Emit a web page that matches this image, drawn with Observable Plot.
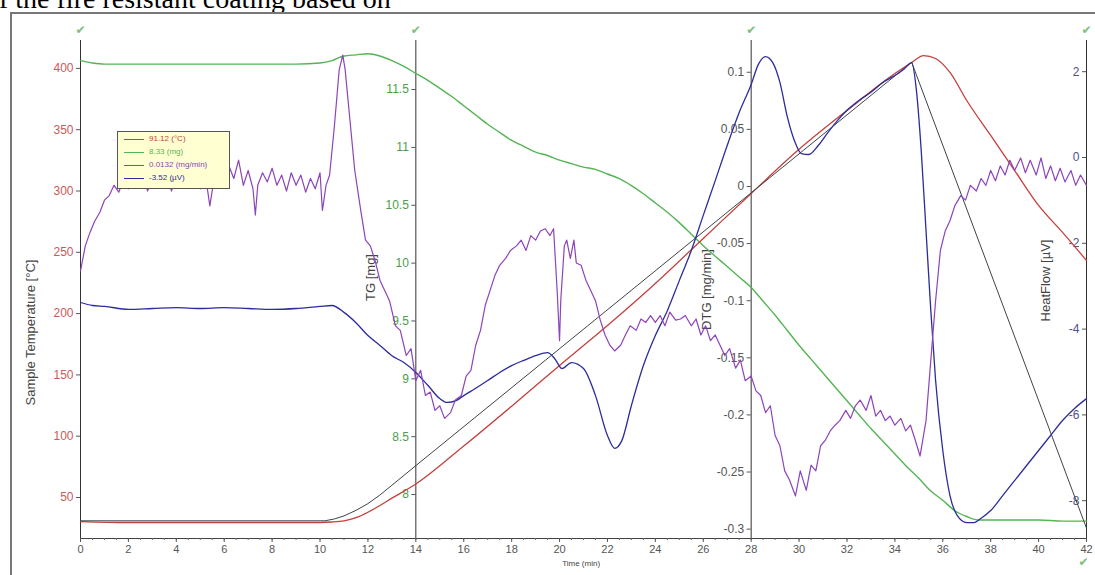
<!DOCTYPE html>
<html><head><meta charset="utf-8">
<script src="https://cdn.jsdelivr.net/npm/d3@7"></script>
<script src="https://cdn.jsdelivr.net/npm/@observablehq/plot@0.6"></script>
<style>
html,body{margin:0;padding:0;background:#fff;}
#wrap{position:relative;width:1095px;height:575px;overflow:hidden;background:#fff;}
#title{position:absolute;left:-1px;top:-15px;font:28px/28px "Liberation Serif","Times New Roman",serif;color:#000;white-space:nowrap;}
#frame{position:absolute;left:10px;top:12px;width:1100px;height:600px;border-top:2px solid #777;border-left:2px solid #777;}
#chart{position:absolute;left:0;top:0;}
#legend{position:absolute;left:117px;top:131px;width:113px;height:58px;background:#ffffd2;border:1px solid #555;font:8px "Liberation Sans",Arial,sans-serif;box-sizing:border-box;}
#legend .row{position:absolute;left:0;height:12px;line-height:12px;white-space:nowrap;}
#legend .sw{position:absolute;left:6px;top:6px;width:20px;height:1px;}
#legend .tx{position:absolute;left:31px;top:0;}
</style></head><body>
<div id="wrap">
<div id="title">f the fire resistant coating based on</div>
<div id="frame"></div>
<div id="chart"></div>
<div id="legend"></div>
</div>
<script>
// ---------- data ----------
// Sample temperature [°C]
const tempTime = [0,2,5,8,10,10.5,11,11.5,12,12.5,13,14,16,18,20,22,24,26,28,30,32,34,34.7,35.2,35.7,36.3,37,38,39,40,41,42];
const sampleTemp = [30.4,29.6,29.6,29.6,29.6,30.0,31.0,33.5,38.0,43.5,49.5,61.0,92.0,124.5,157.7,190.3,224.6,261.3,298.0,334.0,365.7,395.8,404.8,410.5,408.1,396.7,373.8,345.3,316.7,288.2,266.2,243.3];
// Reference (program) temperature [°C]
const refTime = [0,10.2,10.6,11,11.5,12,12.5,13,14,34.7,42];
const refTemp = [31,31,32.5,35,39.5,45,52,60,76,405,25];
// TG [mg]
const tgTime = [0,0.5,1,3,6,9,10,10.5,11,11.5,12,12.5,13,13.5,14,14.5,15,15.5,16,16.5,17,17.5,18,18.5,19,19.5,20,20.5,21,21.5,22,22.5,23,23.5,24,24.5,25,25.5,26,26.5,27,27.5,28,28.5,29,29.5,30,30.5,31,31.5,32,32.5,33,33.5,34,34.5,35,35.5,36,36.5,37,37.5,38,39,40,41,42];
const tgMass = [11.75,11.73,11.72,11.72,11.72,11.72,11.73,11.75,11.79,11.80,11.81,11.79,11.75,11.70,11.64,11.58,11.51,11.44,11.36,11.28,11.20,11.13,11.06,11.01,10.96,10.93,10.89,10.86,10.83,10.81,10.77,10.73,10.67,10.60,10.52,10.44,10.35,10.25,10.15,10.06,9.97,9.88,9.79,9.67,9.55,9.42,9.29,9.17,9.05,8.93,8.81,8.69,8.57,8.46,8.35,8.24,8.14,8.03,7.95,7.86,7.81,7.78,7.78,7.78,7.78,7.77,7.77];
// DTG [mg/min]
const dtgTime = [0,0.2,0.4,0.6,0.8,1.0,1.2,1.4,1.6,1.8,2.0,2.2,2.4,2.6,2.8,3.0,3.2,3.4,3.6,3.8,4.0,4.2,4.4,4.6,4.8,5.0,5.2,5.4,5.6,5.8,6.0,6.2,6.4,6.6,6.8,7.0,7.2,7.3,7.4,7.6,7.8,8.0,8.2,8.4,8.6,8.8,9.0,9.2,9.4,9.6,9.8,10.0,10.1,10.25,10.4,10.6,10.8,10.95,11.05,11.25,11.45,11.7,11.9,12.1,12.3,12.5,12.7,12.9,13.15,13.35,13.6,13.8,14.0,14.2,14.4,14.6,14.8,15.0,15.2,15.45,15.65,15.9,16.1,16.3,16.5,16.7,16.9,17.1,17.3,17.5,17.75,17.95,18.2,18.4,18.6,18.8,19.0,19.2,19.4,19.6,19.75,19.9,20.0,20.05,20.2,20.3,20.45,20.6,20.7,20.9,21.1,21.3,21.5,21.7,21.9,22.1,22.3,22.55,22.75,22.95,23.2,23.4,23.6,23.8,24.0,24.2,24.4,24.6,24.85,25.05,25.25,25.5,25.7,25.9,26.1,26.3,26.5,26.7,26.9,27.1,27.35,27.55,27.75,28.0,28.2,28.4,28.6,28.8,29.0,29.2,29.4,29.6,29.85,30.05,30.3,30.5,30.7,30.9,31.1,31.3,31.5,31.7,31.95,32.15,32.35,32.55,32.8,33.0,33.2,33.4,33.6,33.8,34.0,34.25,34.45,34.65,34.85,35.05,35.3,35.5,35.7,35.9,36.1,36.3,36.5,36.75,36.95,37.15,37.4,37.6,37.8,38.0,38.2,38.4,38.6,38.8,39.0,39.25,39.45,39.65,39.9,40.1,40.3,40.5,40.7,40.9,41.1,41.35,41.55,41.75,42.0];
const dtgRate = [-0.074,-0.052,-0.040,-0.030,-0.023,-0.012,-0.008,0.001,-0.005,0.007,-0.002,0.010,0.001,0.012,-0.004,0.007,0.016,0.001,0.010,-0.004,0.014,0.004,0.018,0.001,0.010,-0.002,0.012,-0.017,0.010,0.016,0.004,0.018,0.007,0.023,0.001,0.014,-0.002,-0.025,0.001,0.012,0.004,0.016,0.001,0.010,-0.004,0.012,0.001,0.010,-0.005,0.007,-0.002,0.012,-0.021,0.001,0.010,0.053,0.102,0.115,0.102,0.058,0.014,-0.021,-0.047,-0.052,-0.065,-0.082,-0.091,-0.100,-0.122,-0.126,-0.148,-0.142,-0.170,-0.161,-0.183,-0.180,-0.196,-0.192,-0.203,-0.198,-0.187,-0.183,-0.166,-0.161,-0.139,-0.126,-0.104,-0.091,-0.078,-0.069,-0.063,-0.056,-0.052,-0.047,-0.056,-0.043,-0.047,-0.039,-0.037,-0.043,-0.037,-0.091,-0.135,-0.100,-0.052,-0.047,-0.063,-0.047,-0.067,-0.069,-0.082,-0.091,-0.100,-0.117,-0.130,-0.139,-0.144,-0.139,-0.130,-0.122,-0.126,-0.116,-0.119,-0.113,-0.119,-0.113,-0.122,-0.110,-0.117,-0.116,-0.113,-0.122,-0.116,-0.130,-0.122,-0.135,-0.130,-0.139,-0.148,-0.142,-0.159,-0.152,-0.170,-0.166,-0.179,-0.183,-0.198,-0.192,-0.218,-0.227,-0.249,-0.257,-0.271,-0.249,-0.266,-0.244,-0.249,-0.227,-0.222,-0.214,-0.209,-0.205,-0.196,-0.203,-0.192,-0.187,-0.196,-0.183,-0.201,-0.196,-0.205,-0.201,-0.209,-0.203,-0.214,-0.209,-0.222,-0.236,-0.205,-0.152,-0.100,-0.056,-0.039,-0.030,-0.017,-0.008,-0.012,0.001,-0.004,0.007,0.001,0.014,0.005,0.018,0.010,0.023,0.014,0.025,0.012,0.023,0.010,0.025,0.007,0.018,0.005,0.016,0.004,0.014,0.001,0.010,0.001];
// Heat flow [µV]
const hfTime = [0,0.5,1,2,3,4,5,6,7,8,9,10,10.5,11,11.5,12,12.5,13,13.5,14,14.5,15,15.3,15.7,16,16.5,17,17.5,18,18.5,19,19.5,19.8,20.1,20.5,21,21.5,22,22.3,22.6,23,23.5,24,24.5,25,25.5,26,26.5,27,27.5,28,28.3,28.6,28.9,29.2,29.5,29.8,30.1,30.4,30.8,31.2,31.6,32,32.5,33,33.5,34,34.4,34.7,34.9,35.1,35.3,35.5,35.7,36,36.3,36.6,37,37.3,37.6,38,38.5,39,39.5,40,40.5,41,41.5,42];
const hfSignal = [-3.38,-3.45,-3.47,-3.54,-3.52,-3.50,-3.52,-3.50,-3.52,-3.54,-3.52,-3.47,-3.45,-3.61,-3.85,-4.15,-4.38,-4.62,-4.78,-5.01,-5.31,-5.62,-5.71,-5.66,-5.55,-5.38,-5.20,-5.01,-4.85,-4.73,-4.62,-4.55,-4.69,-4.92,-4.78,-4.92,-5.55,-6.48,-6.78,-6.60,-5.78,-4.85,-4.15,-3.57,-2.87,-2.17,-1.35,-0.54,0.28,1.05,1.70,2.17,2.35,2.21,1.75,0.97,0.40,0.09,0.07,0.28,0.58,0.86,1.10,1.33,1.52,1.75,1.91,2.07,2.21,1.56,0.16,-1.70,-3.57,-5.20,-6.83,-7.88,-8.34,-8.51,-8.51,-8.41,-8.23,-7.88,-7.53,-7.18,-6.83,-6.48,-6.13,-5.85,-5.62];
// Axes
const timeTicks = [0,2,4,6,8,10,12,14,16,18,20,22,24,26,28,30,32,34,36,38,40,42];
const tempTicks = [50,100,150,200,250,300,350,400];
const tgTicks = [8,8.5,9,9.5,10,10.5,11,11.5];
const dtgTicks = [-0.3,-0.25,-0.2,-0.15,-0.1,-0.05,0,0.05,0.1];
const hfTicks = [-8,-6,-4,-2,0,2];
const tempDomain = [16.56,422.76], tgDomain = [7.620,11.924], dtgDomain = [-0.3082,0.1278], hfDomain = [-8.881,2.727];
const legendLabels = ["91.12 (°C)","8.33 (mg)","0.0132 (mg/min)","-3.52 (µV)"];

// ---------- styling ----------
const C = {temp:"#c4403c", ref:"#3c4646", tg:"#55b455", dtg:"#8c44b8", hf:"#2c2c9c"};
const font = "'Liberation Sans', Arial, sans-serif";

const toTemp = dom => d3.scaleLinear().domain(dom).range(tempDomain);
const fromTG = toTemp(tgDomain), fromDTG = toTemp(dtgDomain), fromHF = toTemp(hfDomain);
const zip = (ts, vs, f) => ts.map((t,i)=>({t, y: f(vs[i])}));
const id = v => v;

const pxPerMin = (1086-80)/42;
function yAxis(ticks, at, f, color, fmt){
  return [
    Plot.ruleY(ticks, {y: f, x1: at - 4/pxPerMin, x2: at, stroke: "#555", strokeWidth: 1}),
    Plot.text(ticks, {x: at, y: f, text: fmt, dx: -7, textAnchor: "end", fill: color, fontSize: 12})
  ];
}

const chart = Plot.plot({
  width: 1095, height: 575,
  marginLeft: 80, marginRight: 9, marginTop: 40, marginBottom: 37,
  style: {fontFamily: font, background: "transparent", overflow: "visible"},
  x: {domain: [0,42], axis: null},
  y: {domain: tempDomain, axis: null},
  marks: [
    // axis titles
    Plot.text(["Sample Temperature [°C]"], {x: 0, frameAnchor: "middle", dx: -50, dy: 43, rotate: -90, fontSize: 13, fill: "#444"}),
    Plot.text(["TG [mg]"], {x: 14, frameAnchor: "middle", dx: -45, dy: -12, rotate: -90, fontSize: 13, fill: "#444"}),
    Plot.text(["DTG [mg/min]"], {x: 28, frameAnchor: "middle", dx: -44, dy: 0, rotate: -90, fontSize: 13, fill: "#444"}),
    Plot.text(["HeatFlow [µV]"], {x: 42, frameAnchor: "middle", dx: -41, dy: -9, rotate: -90, fontSize: 13, fill: "#444"}),
    // y axes
    ...yAxis(tempTicks, 0, id, "#c85a5a", d => String(d)),
    ...yAxis(tgTicks, 14, fromTG, "#4a9e4a", d => String(d)),
    ...yAxis(dtgTicks, 28, fromDTG, "#555", d => String(d)),
    ...yAxis(hfTicks, 42, fromHF, "#50508a", d => String(d)),
    Plot.ruleX([0,14,28,42], {y1: tempDomain[0], y2: tempDomain[1], stroke: "#333", strokeWidth: 1}),
    Plot.ruleY([tempDomain[0]], {x1: 0, x2: 42, stroke: "#444"}),
    // x axis
    Plot.axisX(d3.range(0,42.01,0.5), {tickSize: 2, tickFormat: () => "", stroke: "#666", label: null}),
    Plot.axisX(timeTicks, {tickSize: 4, tickPadding: 3, fontSize: 11, color: "#555", label: null}),
    Plot.text(["Time (min)"], {x: 20.9, frameAnchor: "bottom", dy: 27, fontSize: 8, fill: "#444"}),
    // check marks
    Plot.text([0,14,28,42], {x: d => d, frameAnchor: "top", dy: -15, text: () => "✔", fill: "#7cbf7c", fontSize: 12, fontFamily: "DejaVu Sans"}),
    Plot.text([42], {x: d => d, frameAnchor: "bottom", dy: 27, dx: -3, text: () => "✔", fill: "#7cbf7c", fontSize: 12, fontFamily: "DejaVu Sans"}),
    // series
    Plot.line(zip(tgTime, tgMass, fromTG), {x: "t", y: "y", stroke: C.tg, strokeWidth: 1.4, curve: "monotone-x"}),
    Plot.line(zip(tempTime, sampleTemp, id), {x: "t", y: "y", stroke: C.temp, strokeWidth: 1.3, curve: "monotone-x"}),
    Plot.line(zip(refTime, refTemp, id), {x: "t", y: "y", stroke: C.ref, strokeWidth: 1}),
    Plot.line(zip(hfTime, hfSignal, fromHF), {x: "t", y: "y", stroke: C.hf, strokeWidth: 1.3, curve: "monotone-x"}),
    Plot.line(zip(dtgTime, dtgRate, fromDTG), {x: "t", y: "y", stroke: C.dtg, strokeWidth: 1.2})
  ]
});
document.getElementById("chart").appendChild(chart);

// legend
const legendColors = [C.temp, C.tg, C.dtg, C.hf];
const lg = document.getElementById("legend");
legendLabels.forEach((s,i) => {
  const r = document.createElement("div");
  r.className = "row"; r.style.top = (1 + i*13) + "px"; r.style.width = "110px";
  r.innerHTML = `<span class="sw" style="background:${legendColors[i]}"></span><span class="tx" style="color:${legendColors[i]}">${s}</span>`;
  lg.appendChild(r);
});
</script>
</body></html>
